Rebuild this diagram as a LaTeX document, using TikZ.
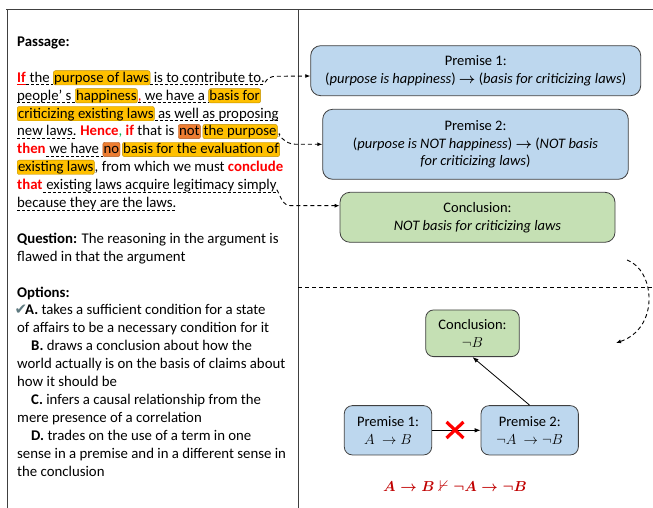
\documentclass[tikz,border=0pt]{standalone}
\usepackage{fontspec}
\setmainfont{Carlito}
\newfontfamily\symfont{DejaVu Sans}
\usepackage{amsmath,amssymb}
\usetikzlibrary{arrows.meta}

\definecolor{hlfill}{HTML}{FFC000}
\definecolor{hldraw}{HTML}{BF9000}
\definecolor{negfill}{HTML}{ED7D31}
\definecolor{negdraw}{HTML}{AE5A21}
\definecolor{premfill}{HTML}{BDD7EE}
\definecolor{concfill}{HTML}{C5E0B4}
\definecolor{framecol}{HTML}{404040}
\definecolor{logicred}{HTML}{C00000}
\definecolor{cuegreen}{HTML}{00B050}
\definecolor{tickcol}{HTML}{5F7A80}

\newcommand\cue[1]{\textcolor{red}{\bfseries #1}}
\newcommand\rowy[1]{461.5-17.9*#1}
\newcommand\bodysize{\fontsize{14.8pt}{17.9pt}\selectfont}
\newcommand\boxsize{\fontsize{14.5pt}{17.9pt}\selectfont}
\newcommand\arr{$\boldsymbol{\rightarrow}$}
\newcommand\gapsp{\ \null}

\tikzset{
  txt/.style={inner sep=0pt, anchor=base west, font=\bodysize},
  hl/.style={txt, fill=hlfill, draw=hldraw, rounded corners=2pt, inner xsep=0.8pt, inner ysep=1pt, text height=10.6pt, text depth=1.7pt},
  neg/.style={hl, fill=negfill, draw=negdraw},
  ul/.style={line width=0.6pt, dash pattern=on 3pt off 2pt},
  redul/.style={red, line width=0.6pt},
  link/.style={line width=0.9pt, dash pattern=on 4pt off 3pt, -{Latex[length=5pt,width=4pt]}},
  flow/.style={line width=0.8pt, -{Latex[length=6pt,width=4.5pt]}},
  box/.style={draw=framecol, line width=0.8pt, rounded corners=10pt, align=center, font=\boxsize, inner sep=0pt},
  premise/.style={box, fill=premfill},
  concl/.style={box, fill=concfill},
  small/.style={rounded corners=8pt},
  frame/.style={framecol, line width=1pt},
}

\begin{document}
\begin{tikzpicture}[x=1pt,y=1pt]
\useasboundingbox (0,0) rectangle (653,508);

% panels
\draw[frame] (6,498) -- (653,498);
\draw[frame] (7.5,498) -- (7.5,0);
\draw[frame] (298,498) -- (298,0);

% passage
\node[txt, font=\bodysize\bfseries] (pass) at (17,{\rowy{0}}) {Passage:};

\node[txt] (l1a) at (17,{\rowy{2}}) {\cue{If}};
\node[txt] (l1b) at (l1a.base east) {\ the\gapsp};
\node[hl] (l1c) at (l1b.base east) {purpose of laws};
\node[txt] (l1d) at (l1c.base east) {\ is to contribute to.};

\node[txt] (l2a) at (17,{\rowy{3}}) {people' s\gapsp};
\node[hl] (l2b) at (l2a.base east) {happiness};
\node[txt] (l2c) at (l2b.base east) {\textcolor{red}{,}\ we have a\gapsp};
\node[hl] (l2d) at (l2c.base east) {basis for};

\node[hl] (l3a) at (17,{\rowy{4}}) {criticizing existing laws};
\node[txt] (l3b) at (l3a.base east) {\ as well as proposing};

\node[txt] (l4a) at (17,{\rowy{5}}) {new laws.};
\node[txt] (l4b) at (l4a.base east) {\ \cue{Hence}\textcolor{cuegreen}{,} \cue{if} that is\gapsp};
\node[neg] (l4c) at (l4b.base east) {not};
\node[hl] (l4d) at ([xshift=2pt]l4c.base east) {the purpose};
\node[txt] (l4e) at (l4d.base east) {,};

\node[txt] (l5a) at (17,{\rowy{6}}) {\cue{then}};
\node[txt] (l5b) at (l5a.base east) {\ we have\gapsp};
\node[neg] (l5c) at (l5b.base east) {no};
\node[hl] (l5d) at ([xshift=2pt]l5c.base east) {basis for the evaluation of};

\node[hl] (l6a) at (17,{\rowy{7}}) {existing laws};
\node[txt] (l6b) at (l6a.base east) {, from which we must \cue{conclude}};

\node[txt] (l7a) at (17,{\rowy{8}}) {\cue{that}};
\node[txt] (l7b) at (l7a.base east) {\ existing laws acquire legitimacy simply};

\node[txt] (l8a) at (17,{\rowy{9}}) {because they are the laws.};

\foreach \n in {l1b,l1d,l2a,l2c,l3b,l4a,l5b,l7b,l8a}
  \draw[ul] ([yshift=-2.5pt]\n.base west) -- ([yshift=-2.5pt]\n.base east);
\draw[redul] ([yshift=-2.5pt]l1a.base west) -- ([yshift=-2.5pt]l1a.base east);

% question and options
\node[txt] (q1) at (17,{\rowy{11}}) {\textbf{Question:} The reasoning in the argument is};
\node[txt] (q2) at (17,{\rowy{12}}) {flawed in that the argument};
\node[txt, font=\bodysize\bfseries] (opt) at (17,{\rowy{14}}) {Options:};
\node[txt, font=\symfont\fontsize{15pt}{15pt}\selectfont, text=tickcol] (tick) at (14.5,{\rowy{15}}) {✔};
\foreach \k/\x/\t in {15/25/{\textbf{A.} takes a sufficient condition for a state},
    16/17/{of affairs to be a necessary condition for it},
    17/31/{\textbf{B.} draws a conclusion about how the},
    18/17/{world actually is on the basis of claims about},
    19/17/{how it should be},
    20/31/{\textbf{C.} infers a causal relationship from the},
    21/17/{mere presence of a correlation},
    22/31/{\textbf{D.} trades on the use of a term in one},
    23/17/{sense in a premise and in a different sense in},
    24/17/{the conclusion}}
  \node[txt] (o\k) at (\x,{\rowy{\k}}) {\t};

% argument boxes
\node[premise, minimum width=330pt, minimum height=50pt] (pr1) at (475.7,437.3)
  {Premise 1:\\(\textit{purpose is happiness}) \arr{} (\textit{basis for criticizing laws})};
\node[premise, minimum width=305.6pt, minimum height=70pt] (pr2) at (475.5,363.7)
  {Premise 2:\\(\textit{purpose is NOT happiness}) \arr{} (\textit{NOT basis}\\\textit{for criticizing laws})};
\node[concl, minimum width=275pt, minimum height=50pt] (pr3) at (477.5,290.7)
  {Conclusion:\\\textit{NOT basis for criticizing laws}};

\draw[link] (l1d.base east) to[out=60,in=180] ++(11,6) -- ([yshift=-5.3pt]pr1.west);
\draw[link] ([yshift=-2pt]l4e.base east) to[out=-40,in=180] ++(14,-6.3) -- (pr2.west);
\draw[link] (l7b.base east) to[out=-60,in=180] ++(14,-16) -- ([yshift=11.6pt]pr3.west);

% formal version
\draw[link, -] (298,221) -- (653,221);
\coordinate (loopa) at (627,248);
\coordinate (loopb) at (616,165);
\draw[link] (loopa) .. controls (655,238) and (660,180) .. (loopb);

\node[concl, small, minimum width=93.6pt, minimum height=46.7pt] (fc) at (472.5,174.7) {Conclusion:\\$\neg B$};
\node[premise, small, minimum width=87.4pt, minimum height=49.3pt] (f1) at (388,77.7) {Premise 1:\\$A\ \rightarrow B$};
\node[premise, small, minimum width=97.3pt, minimum height=49.3pt] (f2) at (529.7,77.7) {Premise 2:\\$\neg A\ \rightarrow \neg B$};
\draw[flow] (f1) -- (f2);
\draw[flow] (f2.north) -- (fc.south);
\coordinate (nope) at (455,78);
\draw[red, line width=3.2pt] ([shift={(-8.5,-8)}]nope) -- ([shift={(8.5,8)}]nope);
\draw[red, line width=3.2pt] ([shift={(-8.5,8)}]nope) -- ([shift={(8.5,-8)}]nope);

\node[text=logicred, font=\fontsize{15.5pt}{15.5pt}\selectfont] (law) at (455,22.3)
  {$\boldsymbol{A \rightarrow B \nvdash \neg A \rightarrow \neg B}$};
\end{tikzpicture}
\end{document}
